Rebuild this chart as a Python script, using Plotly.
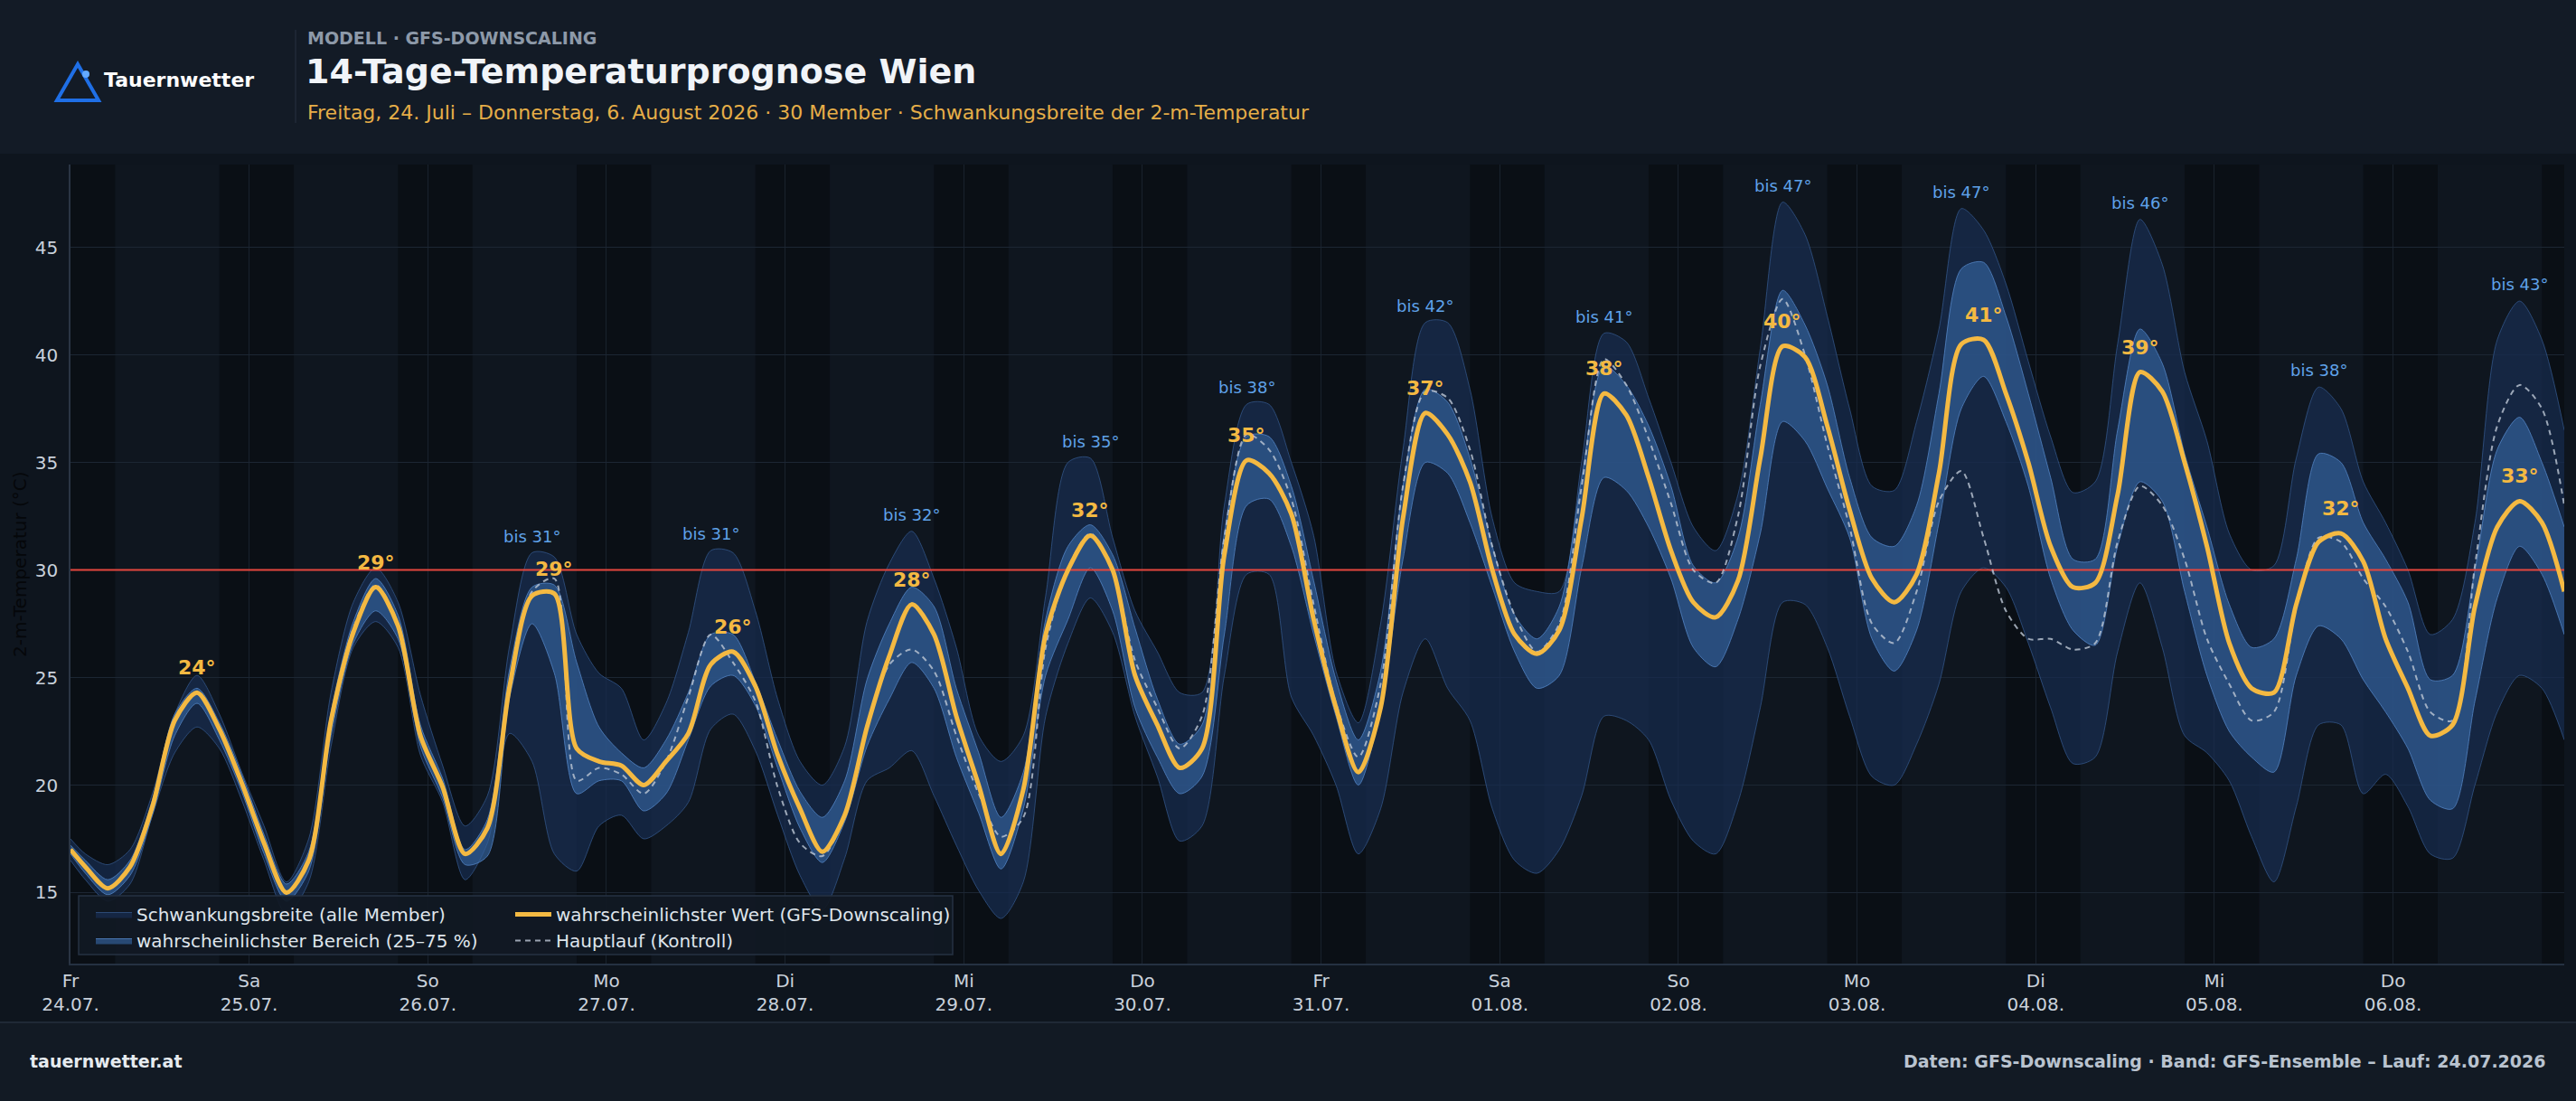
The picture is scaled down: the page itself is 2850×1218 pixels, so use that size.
import pandas as pd
import plotly.graph_objects as go

# ---------------- data ----------------
start = pd.Timestamp("2026-07-24 00:00")
end = pd.Timestamp("2026-08-06 23:00")
hours = [0] + list(range(2, 336, 3))          # sample hours since start
times = [start + pd.Timedelta(hours=h) for h in hours]

day_names = ["Fr", "Sa", "So", "Mo", "Di", "Mi", "Do", "Fr", "Sa", "So", "Mo", "Di", "Mi", "Do"]
day_dates = ["24.07.", "25.07.", "26.07.", "27.07.", "28.07.", "29.07.", "30.07.",
             "31.07.", "01.08.", "02.08.", "03.08.", "04.08.", "05.08.", "06.08."]
day_max_labels = [24, 29, 29, 26, 28, 32, 35, 37, 38, 40, 41, 39, 32, 33]
band_max_labels = [None, None, 31, 31, 32, 35, 38, 42, 41, 47, 47, 46, 38, 43]
threshold = 30

median = [17.0,
    16.2, 15.2, 16.2, 19.0, 23.0, 24.3, 22.6, 20.1,
    17.3, 15.0, 16.5, 23.0, 27.1, 29.2, 27.4, 22.3,
    19.9, 16.8, 18.0, 24.6, 28.8, 28.9, 21.7, 21.1,
    20.9, 20.0, 21.1, 22.4, 25.6, 26.2, 24.6, 21.4,
    18.9, 16.9, 18.6, 22.7, 26.0, 28.4, 27.0, 23.2,
    20.0, 16.8, 19.8, 27.0, 30.0, 31.6, 30.0, 25.1,
    22.8, 20.8, 21.7, 30.7, 35.1, 34.5, 32.6, 27.7,
    23.6, 20.6, 23.6, 32.4, 37.3, 36.3, 34.1, 30.0,
    27.0, 26.1, 27.2, 32.4, 38.2, 37.2, 34.3, 30.9,
    28.5, 27.8, 29.5, 35.2, 40.4, 39.9, 36.7, 32.8,
    29.6, 28.5, 29.8, 34.5, 40.5, 40.7, 38.2, 35.0,
    31.1, 29.2, 29.4, 33.5, 39.2, 38.3, 35.0, 31.1,
    26.6, 24.5, 24.3, 28.4, 31.3, 31.7, 30.4, 26.8,
    24.5, 22.3, 22.8, 28.3, 32.0, 33.2, 32.2, 29.0]

p75 = [17.2,
    16.5, 15.6, 16.5, 19.3, 23.3, 24.5, 22.9, 20.5,
    17.7, 15.4, 16.9, 23.4, 27.6, 29.6, 27.9, 22.8,
    20.3, 17.0, 18.4, 25.4, 29.2, 29.3, 25.7, 22.7,
    21.5, 20.8, 22.1, 24.3, 27.0, 27.0, 24.8, 22.1,
    19.7, 18.5, 20.2, 24.9, 27.5, 29.2, 28.3, 24.5,
    21.5, 18.5, 20.6, 27.7, 31.1, 32.1, 30.7, 27.3,
    24.0, 21.9, 22.8, 31.7, 36.2, 36.2, 33.9, 29.5,
    24.9, 22.1, 25.3, 33.9, 38.4, 37.8, 35.2, 31.1,
    27.9, 26.8, 28.3, 34.3, 39.5, 38.6, 36.7, 33.9,
    30.2, 29.4, 31.5, 37.7, 43.0, 41.4, 38.6, 34.3,
    31.5, 31.1, 33.0, 38.2, 44.0, 44.3, 41.8, 38.2,
    34.3, 30.5, 30.5, 36.5, 41.2, 39.6, 35.4, 32.0,
    28.4, 26.4, 26.8, 30.5, 35.4, 35.0, 32.2, 30.5,
    28.5, 24.9, 25.1, 30.0, 35.6, 37.1, 35.0, 32.0]

p25 = [16.8,
    15.9, 14.9, 15.8, 18.6, 22.3, 23.8, 22.1, 19.7,
    16.8, 14.6, 16.0, 22.3, 26.6, 28.1, 26.8, 21.8,
    19.4, 16.3, 16.7, 24.1, 27.5, 25.2, 19.6, 20.2,
    20.2, 18.8, 19.6, 22.1, 24.6, 25.1, 23.7, 20.8,
    18.0, 16.4, 18.3, 21.8, 24.0, 25.7, 24.5, 21.3,
    18.7, 16.1, 18.9, 25.1, 27.7, 30.1, 28.1, 23.6,
    21.3, 19.6, 20.4, 27.0, 33.0, 33.3, 31.1, 27.0,
    23.2, 20.0, 23.6, 30.5, 35.0, 34.5, 32.2, 29.2,
    26.2, 24.5, 25.1, 30.1, 34.3, 33.7, 32.0, 29.6,
    26.4, 25.5, 27.7, 31.7, 36.9, 36.0, 33.8, 31.5,
    26.8, 25.3, 27.2, 32.2, 37.5, 39.0, 36.9, 33.9,
    29.6, 27.2, 26.5, 31.1, 34.1, 33.2, 29.0, 25.1,
    22.5, 21.3, 20.6, 25.1, 27.4, 26.8, 24.9, 23.4,
    21.7, 19.3, 18.9, 23.9, 28.7, 31.1, 29.8, 27.0]

ens_max = [17.5,
    16.8, 16.3, 17.0, 19.6, 23.3, 25.1, 23.3, 20.6,
    18.1, 15.5, 17.5, 24.3, 28.5, 30.1, 28.5, 24.2,
    20.9, 18.1, 19.5, 26.5, 30.8, 30.6, 27.0, 25.2,
    24.5, 22.1, 23.8, 27.1, 30.9, 30.8, 28.1, 24.0,
    21.1, 20.0, 21.8, 27.6, 30.3, 31.8, 29.6, 26.4,
    22.3, 21.1, 22.3, 28.8, 35.0, 35.2, 31.5, 28.1,
    26.2, 24.3, 24.3, 33.0, 37.7, 37.7, 35.0, 31.6,
    25.3, 22.9, 27.5, 35.6, 41.5, 41.5, 38.4, 32.4,
    29.4, 29.0, 29.0, 35.0, 41.0, 40.6, 38.0, 35.0,
    32.0, 30.9, 33.5, 40.3, 47.1, 45.6, 41.8, 37.5,
    33.9, 33.7, 36.9, 41.2, 46.8, 45.8, 43.3, 39.7,
    36.2, 33.6, 34.1, 40.5, 46.3, 44.2, 39.2, 36.0,
    31.7, 30.0, 30.2, 35.2, 38.5, 37.5, 34.1, 32.2,
    30.0, 27.0, 27.7, 32.2, 40.7, 42.5, 40.7, 36.5]

ens_min = [16.5,
    15.6, 14.6, 15.4, 18.6, 21.5, 22.7, 21.7, 19.3,
    16.5, 14.0, 15.5, 21.8, 26.4, 27.6, 26.4, 21.4,
    19.2, 15.6, 17.3, 22.4, 21.1, 16.8, 16.0, 18.1,
    18.6, 17.5, 18.1, 19.2, 22.6, 23.3, 21.6, 18.6,
    15.8, 14.2, 16.6, 20.2, 20.8, 21.6, 19.5, 17.2,
    15.1, 13.8, 15.5, 23.2, 26.6, 28.7, 27.1, 23.2,
    20.4, 17.4, 18.1, 25.1, 29.8, 29.8, 24.1, 22.3,
    20.0, 16.8, 18.9, 24.3, 26.8, 24.5, 23.0, 18.9,
    16.5, 15.9, 17.0, 19.5, 23.2, 23.0, 22.1, 19.3,
    17.4, 16.8, 19.2, 23.6, 28.5, 28.4, 26.4, 23.2,
    20.4, 20.0, 21.9, 24.7, 29.0, 30.1, 29.2, 26.6,
    23.6, 21.0, 21.3, 26.2, 29.4, 26.4, 22.3, 21.5,
    20.2, 17.6, 15.5, 19.0, 22.8, 22.8, 19.6, 20.5,
    19.0, 16.8, 16.6, 20.0, 23.4, 25.1, 24.5, 22.1]

control = [17.0,
    16.2, 15.2, 16.2, 19.0, 23.0, 24.3, 22.6, 20.1,
    17.3, 15.0, 16.5, 23.0, 27.3, 29.3, 27.5, 22.4,
    19.9, 16.8, 17.9, 24.6, 29.0, 29.6, 20.2, 20.8,
    20.5, 19.6, 21.1, 24.1, 27.0, 25.7, 23.9, 19.9,
    17.3, 16.7, 18.6, 22.6, 25.6, 26.3, 25.3, 22.3,
    19.6, 17.6, 18.5, 26.4, 30.1, 31.7, 30.0, 25.8,
    23.6, 21.7, 23.2, 31.5, 36.3, 35.6, 33.3, 28.4,
    23.8, 21.3, 24.7, 33.9, 38.3, 38.0, 35.6, 31.1,
    27.9, 26.2, 27.5, 33.9, 39.8, 38.6, 36.1, 33.1,
    30.0, 29.4, 32.5, 39.5, 42.6, 40.0, 35.8, 32.0,
    27.5, 26.6, 29.0, 33.2, 34.6, 31.5, 28.1, 26.8,
    26.8, 26.3, 26.6, 31.3, 33.9, 33.0, 30.5, 26.8,
    24.7, 23.0, 23.4, 28.3, 31.5, 31.3, 29.6, 28.3,
    26.2, 23.4, 23.0, 30.2, 36.7, 38.6, 37.5, 33.0]

# ---------------- layout geometry ----------------
W, H = 2850, 1218
ML, MR, MT, MB = 78, 13, 182, 152
PW, PH = W - ML - MR, H - MT - MB


def px(x):
    return (x - ML) / PW


def py(y):
    return (H - MB - y) / PH


FONT = "DejaVu Sans"
C_ORANGE = "#f4b942"
C_BLUE_TXT = "#5fa2e8"
C_FULL_FILL = "rgba(24,45,80,0.72)"
C_FULL_EDGE = "rgba(52,88,140,0.75)"
C_IQR_FILL = "rgba(52,98,155,0.68)"
C_IQR_EDGE = "rgba(80,128,190,0.85)"
C_NIGHT = "#0a0f15"
SMOOTH = 0.8

fig = go.Figure()

fig.add_trace(go.Scatter(x=times, y=ens_max, mode="lines",
                         line=dict(color=C_FULL_EDGE, width=1, shape="spline", smoothing=SMOOTH),
                         showlegend=False, hoverinfo="skip"))
fig.add_trace(go.Scatter(x=times, y=ens_min, mode="lines", fill="tonexty", fillcolor=C_FULL_FILL,
                         line=dict(color=C_FULL_EDGE, width=1, shape="spline", smoothing=SMOOTH),
                         name="Schwankungsbreite (alle Member)", legend="legend", legendrank=1))
fig.add_trace(go.Scatter(x=times, y=p75, mode="lines",
                         line=dict(color=C_IQR_EDGE, width=1, shape="spline", smoothing=SMOOTH),
                         showlegend=False, hoverinfo="skip"))
fig.add_trace(go.Scatter(x=times, y=p25, mode="lines", fill="tonexty", fillcolor=C_IQR_FILL,
                         line=dict(color=C_IQR_EDGE, width=1, shape="spline", smoothing=SMOOTH),
                         name="wahrscheinlichster Bereich (25–75 %)", legend="legend", legendrank=2))
fig.add_trace(go.Scatter(x=[start, end], y=[threshold, threshold], mode="lines",
                         line=dict(color="#e5473e", width=2), showlegend=False, hoverinfo="skip"))
fig.add_trace(go.Scatter(x=times, y=control, mode="lines",
                         line=dict(color="rgba(190,200,214,0.8)", width=2, dash="6px,5px",
                                   shape="spline", smoothing=SMOOTH),
                         name="Hauptlauf (Kontroll)", legend="legend2", legendrank=2))
fig.add_trace(go.Scatter(x=times, y=median, mode="lines",
                         line=dict(color=C_ORANGE, width=5, shape="spline", smoothing=SMOOTH),
                         name="wahrscheinlichster Wert (GFS-Downscaling)", legend="legend2", legendrank=1))

shapes = []
# night shading 20:00 - 06:00
for d in range(-1, 14):
    shapes.append(dict(type="rect", xref="x", yref="paper",
                       x0=start + pd.Timedelta(days=d, hours=20),
                       x1=start + pd.Timedelta(days=d + 1, hours=6),
                       y0=0, y1=1, fillcolor=C_NIGHT, line=dict(width=0), layer="below"))
# header & footer
shapes.append(dict(type="rect", xref="paper", yref="paper", x0=px(0), x1=px(W), y0=py(170), y1=py(0),
                   fillcolor="#131b26", line=dict(width=0), layer="below"))
shapes.append(dict(type="rect", xref="paper", yref="paper", x0=px(0), x1=px(W), y0=py(H), y1=py(1131),
                   fillcolor="#121a24", line=dict(width=0), layer="below"))
shapes.append(dict(type="line", xref="paper", yref="paper", x0=px(0), x1=px(W), y0=py(1131), y1=py(1131),
                   line=dict(color="#1f2936", width=2)))
shapes.append(dict(type="line", xref="paper", yref="paper", x0=px(327), x1=px(327), y0=py(136), y1=py(33),
                   line=dict(color="#283341", width=1)))
# logo
shapes.append(dict(type="path", xref="paper", yref="paper",
                   path=f"M {px(63)},{py(111)} L {px(86)},{py(71)} L {px(109)},{py(111)} Z",
                   line=dict(color="#1f6fe6", width=4), fillcolor="rgba(0,0,0,0)"))
shapes.append(dict(type="circle", xref="paper", yref="paper", x0=px(91), x1=px(99), y0=py(86), y1=py(78),
                   fillcolor="#63a9ff", line=dict(width=0)))
# legend box
shapes.append(dict(type="rect", xref="paper", yref="paper", x0=px(87), x1=px(1054), y0=py(1056), y1=py(991),
                   fillcolor="rgba(17,25,35,0.93)", line=dict(color="#263243", width=1.5), layer="above"))

annotations = []


def txt(x, y, text, size, color, xanchor="left", bold=False, **kw):
    annotations.append(dict(xref="paper", yref="paper", x=px(x), y=py(y), text=(f"<b>{text}</b>" if bold else text),
                            showarrow=False, xanchor=xanchor, yanchor="middle",
                            font=dict(family=FONT, size=size, color=color), **kw))


txt(113, 89, "Tauernwetter", 22, "#ffffff", bold=True)
txt(338, 42, "MODELL · GFS-DOWNSCALING", 19, "#8d99a8", bold=True)
txt(336, 79, "14-Tage-Temperaturprognose Wien", 38, "#f1f4f8", bold=True)
txt(338, 124, "Freitag, 24. Juli – Donnerstag, 6. August 2026 · 30 Member · Schwankungsbreite der 2-m-Temperatur",
    22, "#e6ae48")
txt(31, 1174, "tauernwetter.at", 19, "#e6ebf0", bold=True)
txt(2819, 1174, "Daten: GFS-Downscaling · Band: GFS-Ensemble – Lauf: 24.07.2026", 19, "#b9c3cf",
    xanchor="right", bold=True)
annotations.append(dict(xref="paper", yref="paper", x=px(22), y=py(624), text="2-m-Temperatur (°C)",
                        textangle=-90, showarrow=False, xanchor="center", yanchor="middle",
                        font=dict(family=FONT, size=20, color="#05070a")))

# daily peak labels
for d in range(14):
    idx = [i for i, h in enumerate(hours) if 24 * d <= h < 24 * (d + 1)]
    im = max(idx, key=lambda i: median[i])
    annotations.append(dict(x=times[im], y=median[im], xref="x", yref="y",
                            text=f"<b>{day_max_labels[d]}°</b>", showarrow=False,
                            yanchor="bottom", yshift=13,
                            font=dict(family=FONT, size=22, color=C_ORANGE)))
    if band_max_labels[d] is not None:
        ih = max(idx, key=lambda i: ens_max[i])
        annotations.append(dict(x=times[ih], y=ens_max[ih], xref="x", yref="y",
                                text=f"bis {band_max_labels[d]}°", showarrow=False,
                                yanchor="bottom", yshift=6,
                                font=dict(family=FONT, size=18, color=C_BLUE_TXT)))

tickvals = [start + pd.Timedelta(days=d) for d in range(14)]
ticktext = [f"{n}<br>{dt}" for n, dt in zip(day_names, day_dates)]

legend_common = dict(bgcolor="rgba(0,0,0,0)", borderwidth=0, orientation="v",
                     font=dict(family=FONT, size=20, color="#dfe5ec"), itemwidth=40,
                     tracegroupgap=0, xanchor="left", yanchor="top", traceorder="normal")

fig.update_layout(
    width=W, height=H,
    margin=dict(l=ML, r=MR, t=MT, b=MB, pad=0),
    paper_bgcolor="#0e151e", plot_bgcolor="#0f161f",
    font=dict(family=FONT, color="#c9d1db"),
    shapes=shapes, annotations=annotations,
    legend=dict(x=px(101), y=py(992), **legend_common),
    legend2=dict(x=px(565), y=py(992), **legend_common),
    xaxis=dict(type="date", range=[start, end], tickmode="array", tickvals=tickvals, ticktext=ticktext,
               tickfont=dict(family=FONT, size=20, color="#c9d1db"), showgrid=True, gridcolor="#19222d",
               gridwidth=1, showline=True, linecolor="#253142", linewidth=2, ticks="", zeroline=False,
               fixedrange=True),
    yaxis=dict(range=[11.7, 48.85], tickmode="array", tickvals=[15, 20, 25, 30, 35, 40, 45],
               tickfont=dict(family=FONT, size=20, color="#c9d1db"), showgrid=True, gridcolor="#1c2633",
               gridwidth=1, showline=True, linecolor="#2a3544", linewidth=1.5, ticks="",
               ticklabelstandoff=8, zeroline=False, fixedrange=True),
    hovermode=False,
)

fig.write_html("out.html", include_plotlyjs=True, full_html=True, config={"displayModeBar": False})
